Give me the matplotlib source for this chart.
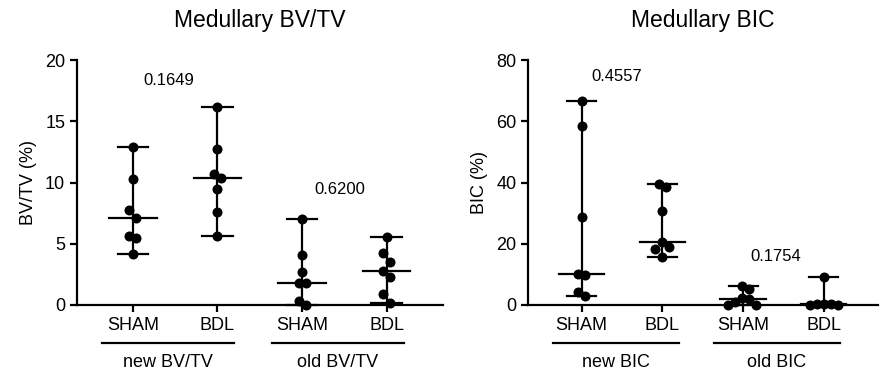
import numpy as np
import matplotlib
matplotlib.use("Agg")
import matplotlib.pyplot as plt
from matplotlib.transforms import blended_transform_factory

plt.rcParams['font.family'] = ['Liberation Sans', 'DejaVu Sans']

# ---------------- data ----------------
categories = ["SHAM", "BDL", "SHAM", "BDL"]

bvtv_new_sham = [12.87, 10.26, 7.76, 7.07, 5.66, 5.44, 4.16]
bvtv_new_bdl = [16.14, 12.73, 10.67, 10.39, 9.44, 7.56, 5.66]
bvtv_old_sham = [7.02, 4.08, 2.67, 1.77, 1.77, 0.33, 0.0]
bvtv_old_bdl = [5.58, 4.22, 3.54, 2.78, 2.31, 0.87, 0.14]

bic_new_sham = [66.6, 58.5, 28.7, 10.0, 9.7, 4.3, 3.0]
bic_new_bdl = [39.5, 38.6, 30.8, 20.7, 18.8, 18.3, 15.6]
bic_old_sham = [6.2, 5.3, 2.2, 1.85, 1.1, 0.0, 0.0]
bic_old_bdl = [9.2, 0.4, 0.3, 0.2, 0.1, 0.0]

bvtv_groups = ["new BV/TV", "old BV/TV"]
bic_groups = ["new BIC", "old BIC"]

bvtv_pvalues = ["0.1649", "0.6200"]
bic_pvalues = ["0.4557", "0.1754"]

bvtv_yticks = [0, 5, 10, 15, 20]
bic_yticks = [0, 20, 40, 60, 80]


def swarm_offsets(vals, px_per_unit_y, px_per_unit_x, dy_lim=10.0, step=7.0):
    vals = np.asarray(vals, float)
    order = np.argsort(-vals)
    placed = []  # (ypx, xpx, idx)
    offs = np.zeros(len(vals))
    comp = list(range(len(vals)))
    cands = [0.0]
    for k in range(1, 10):
        cands += [k * step, -k * step]
    for i in order:
        y = vals[i] * px_per_unit_y
        for c in cands:
            hit = [p for p in placed if abs(p[0] - y) < dy_lim and abs(p[1] - c) < step * 0.99]
            if not hit:
                break
        offs[i] = c
        near = [p[2] for p in placed if abs(p[0] - y) < dy_lim]
        for j in near:
            old = comp[j]
            for m in range(len(comp)):
                if comp[m] == old:
                    comp[m] = comp[i]
        placed.append((y, c, i))
    comp = np.array(comp)
    for g in np.unique(comp):
        m = comp == g
        offs[m] -= offs[m].mean()
    return offs / px_per_unit_x


def panel(ax, data, ylim, yticks, ylabel, title, groups, pvals, ptext_pos):
    ax.set_xlim(-0.66, 3.67)
    ax.set_ylim(*ylim)
    fig = ax.figure
    bbox = ax.get_window_extent()
    ppy = bbox.height / (ylim[1] - ylim[0])
    ppx = bbox.width / (3.67 + 0.66)
    for i, vals in enumerate(data):
        vals = np.asarray(vals)
        lo, hi, med = vals.min(), vals.max(), np.median(vals)
        ax.plot([i, i], [lo, hi], color='black', lw=1.6, clip_on=False, zorder=2)
        for v in (lo, hi):
            ax.plot([i - 0.18, i + 0.18], [v, v], color='black', lw=1.6, clip_on=False, zorder=2)
        ax.plot([i - 0.28, i + 0.28], [med, med], color='black', lw=1.6, clip_on=False, zorder=2)
        xo = swarm_offsets(vals, ppy, ppx)
        ax.scatter(i + xo, vals, s=52, color='black', zorder=3, clip_on=False, linewidths=0)
    ax.set_xticks(range(len(categories)))
    ax.set_xticklabels(categories, fontsize=13)
    ax.set_yticks(yticks)
    ax.tick_params(axis='y', labelsize=13, width=1.6, length=5)
    ax.tick_params(axis='x', width=1.6, length=5)
    ax.set_ylabel(ylabel, fontsize=13, labelpad=6)
    ax.set_title(title, fontsize=16.5, pad=24)
    for s in ('top', 'right'):
        ax.spines[s].set_visible(False)
    for s in ('left', 'bottom'):
        ax.spines[s].set_linewidth(1.6)
    tr = blended_transform_factory(ax.transData, ax.transAxes)
    for g, name in enumerate(groups):
        c = 2 * g + 0.5
        ax.plot([c - 0.86, c + 0.7], [-0.155, -0.155], color='black', lw=1.6,
                transform=tr, clip_on=False)
        ax.text(c - 0.08, -0.237, name, transform=tr, ha='center', va='center', fontsize=13)
    for (x, y), t in zip(ptext_pos, pvals):
        ax.text(x, y, t, ha='center', va='center', fontsize=12)


fig = plt.figure(figsize=(8.85, 3.76), dpi=100)
ax1 = fig.add_axes([0.087, 0.189, 0.414, 0.651])
ax2 = fig.add_axes([0.597, 0.189, 0.395, 0.651])

panel(ax1, [bvtv_new_sham, bvtv_new_bdl, bvtv_old_sham, bvtv_old_bdl], (0, 20), bvtv_yticks,
      "BV/TV (%)", "Medullary BV/TV", bvtv_groups, bvtv_pvalues, [(0.42, 18.3), (2.45, 9.4)])
panel(ax2, [bic_new_sham, bic_new_bdl, bic_old_sham, bic_old_bdl], (0, 80), bic_yticks,
      "BIC (%)", "Medullary BIC", bic_groups, bic_pvalues, [(0.43, 74.8), (2.41, 15.7)])

fig.savefig("out.png", dpi=100)
